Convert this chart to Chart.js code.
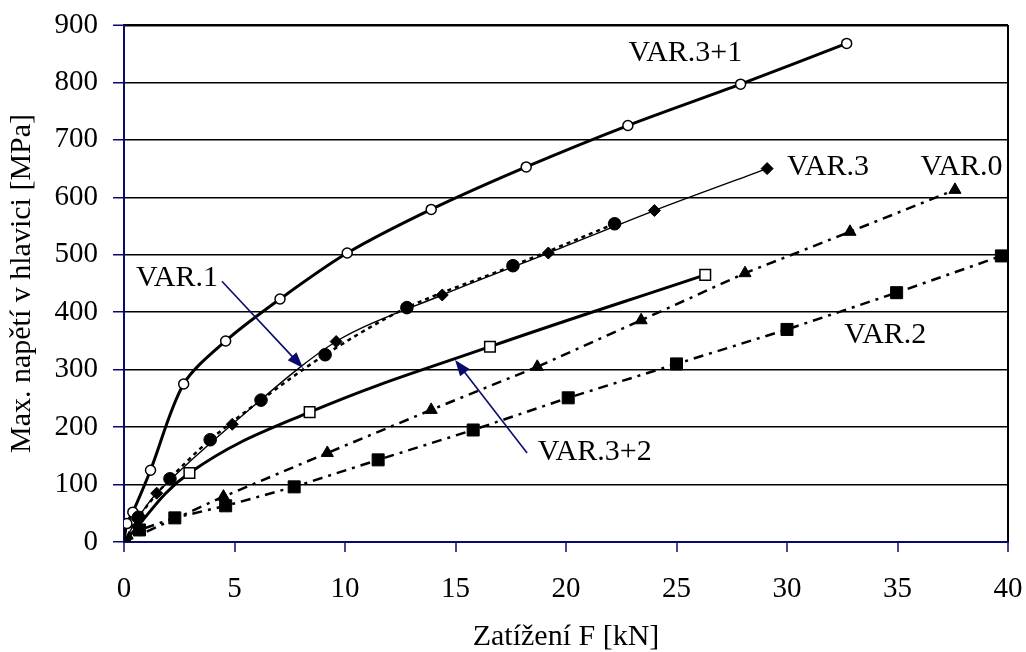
<!DOCTYPE html>
<html>
<head>
<meta charset="utf-8">
<script src="https://cdn.jsdelivr.net/npm/chart.js@4/dist/chart.umd.min.js"></script>
<style>
  html, body { margin: 0; padding: 0; background: #fff; }
  #wrap { width: 1026px; height: 652px; }
</style>
</head>
<body>
<div id="wrap"><canvas id="chart" width="1026" height="652"></canvas></div>
<script>
'use strict';

// Series values: load F [kN] and max. stress [MPa]
const var31F = [0, 0.13, 0.4, 1.2, 2.7, 4.6, 7.06, 10.1, 13.9, 18.2, 22.8, 27.9, 32.7];
const var31S = [0, 32, 52, 125, 275, 350, 423, 503, 579, 653, 725, 797, 868];

const var3F = [0, 0.6, 1.48, 4.9, 9.6, 14.4, 19.2, 24.0, 29.1];
const var3S = [0, 40, 85, 205, 349, 430, 503, 577, 650];

const var1F = [0, 0.65, 2.08, 3.9, 6.2, 9.1, 12.8, 17.6, 22.2];
const var1S = [0, 43, 110, 178, 247, 326, 408, 481, 554];

const var32F = [0, 2.96, 8.4, 16.56, 26.3];
const var32S = [0, 120, 226, 340, 465];

const var0F = [0, 4.5, 9.2, 13.9, 18.7, 23.4, 28.1, 32.85, 37.6];
const var0S = [0, 79, 155, 230, 305, 386, 468, 540, 613];

const var2F = [0, 0.7, 2.3, 4.6, 7.7, 11.5, 15.8, 20.1, 25.0, 30.0, 34.96, 39.7];
const var2S = [0, 21, 42, 63, 96, 143, 195, 251, 310, 370, 434, 498];

// Axis ticks
const xTicks = [0, 5, 10, 15, 20, 25, 30, 35, 40];
const yTicks = [0, 100, 200, 300, 400, 500, 600, 700, 800, 900];

// Series labels and callout arrows (data coordinates)
const labelTexts = ['VAR.3+1', 'VAR.3', 'VAR.0', 'VAR.2', 'VAR.3+2', 'VAR.1'];
const labelF = [25.4, 30.0, 37.9, 34.45, 21.3, 2.4];
const labelS = [851, 653, 653, 360, 157, 460];
const labelAlign = ['center', 'left', 'center', 'center', 'center', 'center'];
const arrowFrom = [[4.43, 454], [18.24, 155]];
const arrowTo = [[8.1, 303], [14.98, 317]];

const FONT = "'Liberation Serif', 'Times New Roman', serif";
const NAVY = '#0a0a6e';

function pts(xs, ys) {
  return xs.map((x, i) => ({ x: x, y: ys[i] }));
}

/**
 * Draws a line with a filled arrow head at its end.
 */
function drawArrow(ctx, x1, y1, x2, y2) {
  const ang = Math.atan2(y2 - y1, x2 - x1);
  const len = 16, half = 6;
  ctx.save();
  ctx.strokeStyle = NAVY;
  ctx.fillStyle = NAVY;
  ctx.lineWidth = 1.6;
  ctx.beginPath();
  ctx.moveTo(x1, y1);
  ctx.lineTo(x2 - Math.cos(ang) * len * 0.8, y2 - Math.sin(ang) * len * 0.8);
  ctx.stroke();
  ctx.beginPath();
  ctx.moveTo(x2, y2);
  ctx.lineTo(x2 - Math.cos(ang) * len - Math.sin(ang) * half, y2 - Math.sin(ang) * len + Math.cos(ang) * half);
  ctx.lineTo(x2 - Math.cos(ang) * len + Math.sin(ang) * half, y2 - Math.sin(ang) * len - Math.cos(ang) * half);
  ctx.closePath();
  ctx.fill();
  ctx.restore();
}

const calloutPlugin = {
  id: 'callouts',
  afterDatasetsDraw(chart) {
    const ctx = chart.ctx;
    const xs = chart.scales.x, ys = chart.scales.y;
    ctx.save();
    ctx.font = '30px ' + FONT;
    ctx.fillStyle = '#000';
    ctx.textBaseline = 'middle';
    labelTexts.forEach((t, i) => {
      ctx.textAlign = labelAlign[i];
      ctx.fillText(t, xs.getPixelForValue(labelF[i]), ys.getPixelForValue(labelS[i]));
    });
    ctx.restore();
    arrowFrom.forEach((a, i) => {
      drawArrow(ctx,
        xs.getPixelForValue(a[0]), ys.getPixelForValue(a[1]),
        xs.getPixelForValue(arrowTo[i][0]), ys.getPixelForValue(arrowTo[i][1]));
    });
  }
};

const datasets = [
  {
    label: 'VAR.2', data: pts(var2F, var2S),
    borderColor: '#000', borderWidth: 2.5, borderDash: [10, 6, 3, 6], tension: 0,
    pointStyle: 'rect', pointRadius: 8.5, pointBackgroundColor: '#000', pointBorderColor: '#000', pointBorderWidth: 1
  },
  {
    label: 'VAR.0', data: pts(var0F, var0S),
    borderColor: '#000', borderWidth: 2.5, borderDash: [10, 6, 3, 6], tension: 0,
    pointStyle: 'triangle', pointRadius: 7, pointBackgroundColor: '#000', pointBorderColor: '#000', pointBorderWidth: 1
  },
  {
    label: 'VAR.3+2', data: pts(var32F, var32S),
    borderColor: '#000', borderWidth: 3, tension: 0.4,
    pointStyle: 'rect', pointRadius: 7.5, pointBackgroundColor: '#fff', pointBorderColor: '#000', pointBorderWidth: 1.5
  },
  {
    label: 'VAR.1', data: pts(var1F, var1S),
    borderColor: '#000', borderWidth: 2.5, borderDash: [4, 4], tension: 0.3,
    pointStyle: 'circle', pointRadius: 6.3, pointBackgroundColor: '#000', pointBorderColor: '#000', pointBorderWidth: 1
  },
  {
    label: 'VAR.3', data: pts(var3F, var3S),
    borderColor: '#000', borderWidth: 1.4, tension: 0.3,
    pointStyle: 'rectRot', pointRadius: 6, pointBackgroundColor: '#000', pointBorderColor: '#000', pointBorderWidth: 1
  },
  {
    label: 'VAR.3+1', data: pts(var31F, var31S),
    borderColor: '#000', borderWidth: 3, tension: 0.3,
    pointStyle: 'circle', pointRadius: 5, pointBackgroundColor: '#fff', pointBorderColor: '#000', pointBorderWidth: 1.5
  }
];

new Chart(document.getElementById('chart'), {
  type: 'scatter',
  data: { datasets: datasets },
  options: {
    responsive: false,
    animation: false,
    showLine: true,
    layout: { padding: { left: 0, right: 18, top: 25, bottom: 0 } },
    plugins: { legend: { display: false }, tooltip: { enabled: false } },
    scales: {
      x: {
        type: 'linear', min: 0, max: 40,
        // fixed box: keep tick label overhang from shrinking the plot area
        afterFit: s => { s.height = 110; s.paddingLeft = 0; s.paddingRight = 0; },
        afterBuildTicks: s => { s.ticks = xTicks.map(v => ({ value: v })); },
        border: { display: true, color: NAVY, width: 2 },
        grid: {
          drawTicks: true, tickLength: 10, tickColor: NAVY, tickWidth: 1.5,
          color: ctx => (ctx.tick && ctx.tick.value === 40 ? '#000' : 'rgba(0,0,0,0)'),
          lineWidth: 2
        },
        ticks: { color: '#000', font: { family: FONT, size: 29 }, padding: 20, maxRotation: 0 },
        title: {
          display: true, text: 'Zatížení F [kN]', color: '#000',
          font: { family: FONT, size: 30, lineHeight: 1 }, padding: { top: 0, bottom: 0 }
        }
      },
      y: {
        type: 'linear', min: 0, max: 900,
        afterFit: s => { s.width = 124; s.paddingTop = 0; s.paddingBottom = 0; },
        afterBuildTicks: s => { s.ticks = yTicks.map(v => ({ value: v })); },
        border: { display: true, color: NAVY, width: 2 },
        grid: {
          drawTicks: true, tickLength: 11, tickColor: NAVY, tickWidth: 1.5,
          color: '#000',
          lineWidth: ctx => (ctx.tick && ctx.tick.value === 900 ? 2.5 : 1.5)
        },
        ticks: { color: '#000', font: { family: FONT, size: 29 }, padding: 15 },
        title: {
          display: true, text: 'Max. napětí v hlavici [MPa]', color: '#000',
          font: { family: FONT, size: 30, lineHeight: 1 }, padding: { top: 7, bottom: 0 }
        }
      }
    }
  },
  plugins: [calloutPlugin]
});
</script>
</body>
</html>
